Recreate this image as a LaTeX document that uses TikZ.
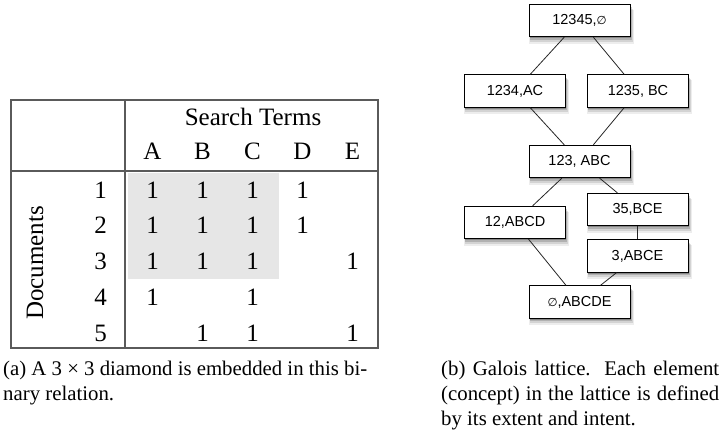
\documentclass[tikz,border=0pt]{standalone}
\usepackage{fontspec}
\setmainfont{Liberation Serif}
\setsansfont{Liberation Sans}
\newfontfamily\djv{DejaVu Sans}
\usetikzlibrary{shadows}
\definecolor{tablegray}{HTML}{5A5A5A}
\definecolor{shadegray}{HTML}{E6E6E6}
\newcommand{\emptyglyph}{{\djv\fontsize{11.5}{14}\selectfont ∅}}
\begin{document}
\begin{tikzpicture}[x=1pt,y=-1pt,
  tline/.style={draw=tablegray, line width=1.1pt},
  tcell/.style={anchor=base, inner sep=0pt, font=\fontsize{25}{30}\selectfont},
  capline/.style={anchor=base west, inner sep=0pt, font=\fontsize{20.8}{25}\selectfont},
  softshadow/.style={
    general shadow={fill=black, opacity=0.07, shadow xshift=1.8pt, shadow yshift=-6pt, shadow scale=1.04},
    general shadow={fill=black, opacity=0.11, shadow xshift=1.5pt, shadow yshift=-4.5pt, shadow scale=1.02},
    general shadow={fill=black, opacity=0.16, shadow xshift=1.2pt, shadow yshift=-3pt, shadow scale=1.01},
    general shadow={fill=black, opacity=0.24, shadow xshift=0.8pt, shadow yshift=-1.5pt}},
  lbox/.style={draw=black, fill=white, line width=0.9pt, minimum width=101pt,
    minimum height=32.5pt, inner sep=0pt, font=\sffamily\fontsize{14.5}{17}\selectfont, softshadow},
  ledge/.style={draw=black!85, line width=0.8pt}]
\useasboundingbox (0,0) rectangle (722,434);

% ---------- table ----------
\fill[shadegray] (128,173) rectangle (279,279);
\draw[tline] (11,100) rectangle (378,348);
\draw[tline] (125,100) -- (125,348);
\draw[tline] (11,171) -- (378,171);

\node[tcell] (st) at (253,125.7) {Search Terms};
\foreach \c/\l in {1/A,2/B,3/C,4/D,5/E}
  \node[tcell] (h-\c) at (102.5+50*\c,159.3) {\l};
\foreach \r in {1,...,5}
  \node[tcell] (rl-\r) at (100.5,162.1+35.9*\r) {\r};
\node[tcell, anchor=center, rotate=90] (docs) at (35,263) {Documents};
\foreach \r/\cols in {1/{1,2,3,4},2/{1,2,3,4},3/{1,2,3,5},4/{1,3},5/{2,3,5}}
  \foreach \c in \cols
    \node[tcell] (m-\r-\c) at (102.5+50*\c,162.1+35.9*\r) {1};

% ---------- lattice ----------
\node[lbox] (top)  at (579.5,20.5) {12345,\emptyglyph};
\node[lbox] (n1234) at (515,91) {1234,AC};
\node[lbox] (n1235) at (638,91) {1235, BC};
\node[lbox] (n123) at (579.5,161.5) {123, ABC};
\node[lbox] (n35) at (637.5,209.5) {35,BCE};
\node[lbox] (n12) at (515,222.5) {12,ABCD};
\node[lbox] (n3) at (637.5,256) {3,ABCE};
\node[lbox] (bot) at (579.5,302) {\emptyglyph,ABCDE};

\draw[ledge] (top) -- (n1234);
\draw[ledge] (top) -- (n1235);
\draw[ledge] (n1234) -- (n123);
\draw[ledge] (n1235) -- (n123);
\draw[ledge] (n123) -- (n12);
\draw[ledge] (n123) -- (n35);
\draw[ledge] (n35) -- (n3);
\draw[ledge] (n12) -- (bot);
\draw[ledge] (n3) -- (bot);

% ---------- captions ----------
\node[capline] (capa1) at (3,375) {\makebox[364pt][s]{(a) A 3 × 3 diamond is embedded in this bi-}};
\node[capline] (capa2) at (3,400) {nary relation.};
\node[capline] (capb1) at (441,375) {\makebox[278pt][s]{(b) Galois lattice. Each element}};
\node[capline] (capb2) at (441,400) {\makebox[278pt][s]{(concept) in the lattice is defined}};
\node[capline] (capb3) at (441,425) {by its extent and intent.};
\end{tikzpicture}
\end{document}
